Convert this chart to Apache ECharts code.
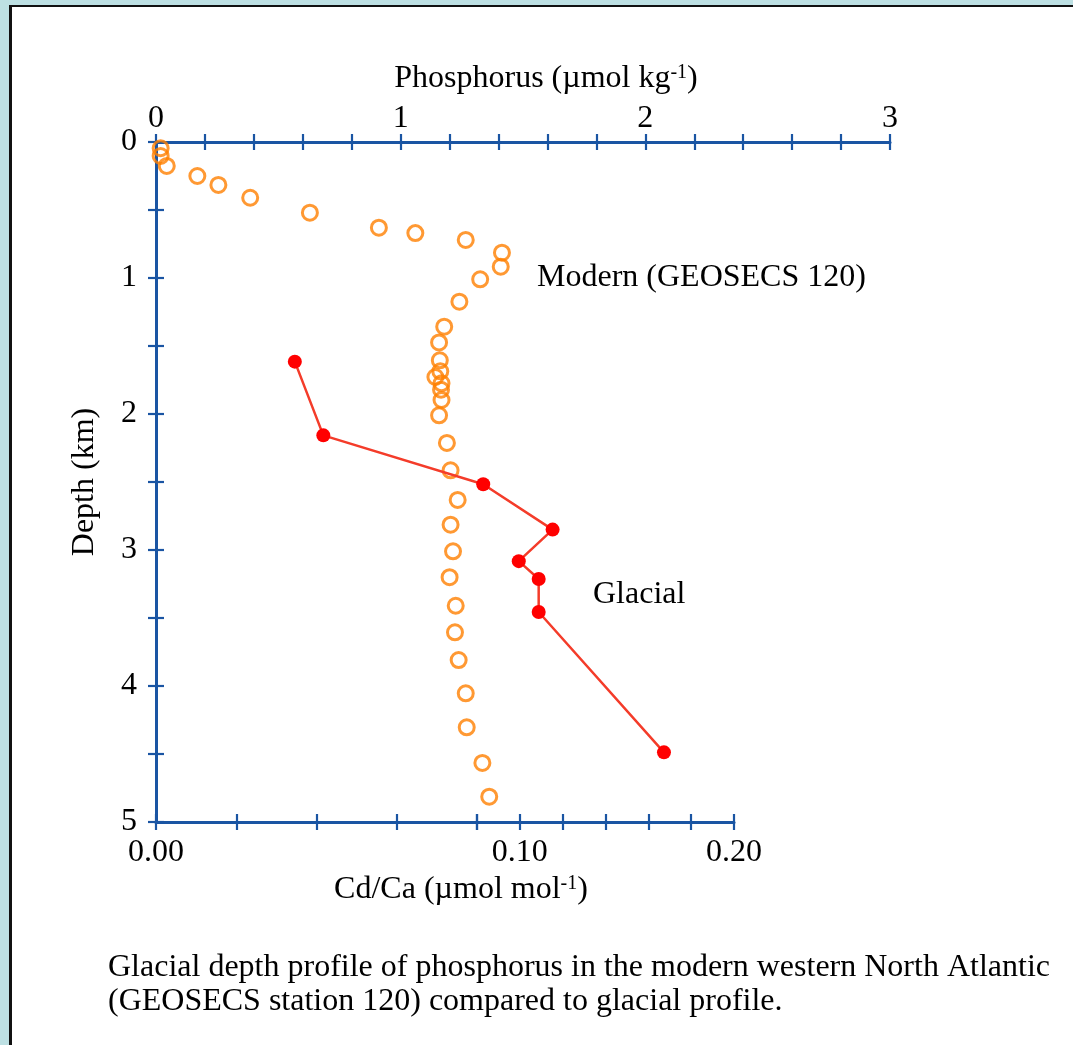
<!DOCTYPE html>
<html><head><meta charset="utf-8">
<script src="https://cdn.jsdelivr.net/npm/echarts@6/dist/echarts.min.js"></script>
<style>html,body{margin:0;padding:0;background:#bde0e3;overflow:hidden;} #c{width:1073px;height:1045px;}</style>
</head><body><div id="c"></div>
<script>
// ---- data ----
const modernPhosphorus = [0.019,0.019,0.044,0.169,0.255,0.385,0.629,0.911,1.06,1.266,1.414,1.409,1.325,1.24,1.178,1.157,1.16,1.162,1.142,1.167,1.165,1.167,1.157,1.189,1.204,1.233,1.204,1.214,1.2,1.225,1.222,1.237,1.266,1.27,1.334,1.362];
const modernDepth = [0.046,0.103,0.176,0.25,0.316,0.41,0.52,0.63,0.67,0.72,0.814,0.917,1.01,1.174,1.358,1.474,1.605,1.686,1.728,1.774,1.821,1.897,2.01,2.213,2.414,2.632,2.814,3.01,3.2,3.41,3.605,3.809,4.054,4.304,4.566,4.814];
const glacialCdCa = [0.0346,0.0417,0.0829,0.1153,0.0995,0.1088,0.1088,0.1673];
const glacialDepth = [1.615,2.157,2.517,2.85,3.082,3.213,3.456,4.488];
const phosphorusTickLabels = [0,1,2,3];
const depthTickLabels = [0,1,2,3,4,5];
const cdcaTickLabels = ['0.00','0.10','0.20'];
const cdcaLow = [0, 0.08];   // first (expanded) segment of the Cd/Ca scale
const cdcaHigh = [0.08, 0.20]; // second (compressed) segment

const FONT = '"Liberation Serif","Times New Roman",serif';
const FS = 32;
const BLUE = '#1a55a3';
const ORANGE = '#ff8000';

const near = (a, b) => Math.abs(a - b) < 1e-6;
function labelFrom(list) {
  return v => { for (const t of list) { if (near(Number(t), v)) return String(t); } return ''; };
}

const chart = echarts.init(document.getElementById('c'), null, {renderer: 'canvas'});

const axisLineStyle = {show: true, onZero: false, lineStyle: {color: BLUE, width: 3}};
const noLine = {show: false, onZero: false};
const tickOut = {show: true, inside: false, length: 8, lineStyle: {color: BLUE, width: 2.2}};
const tickIn = {show: true, inside: true, length: 8, lineStyle: {color: BLUE, width: 2.2}};
const lbl = {color: '#000', fontFamily: FONT, fontSize: FS};

const option = {
  animation: false,
  backgroundColor: '#ffffff',
  grid: [
    {left: 156, top: 142, width: 734, height: 680},
    {left: 156, top: 142, width: 321, height: 680},
    {left: 477, top: 142, width: 257, height: 680}
  ],
  xAxis: [
    {gridIndex: 0, type: 'value', position: 'top', min: 0, max: 3, interval: 0.2,
     axisLine: axisLineStyle, axisTick: tickOut, splitLine: {show: false},
     axisLabel: Object.assign({margin: 7, formatter: labelFrom(phosphorusTickLabels), showMinLabel: true, showMaxLabel: true}, lbl)},
    {gridIndex: 0, type: 'value', position: 'top', min: 0, max: 3, interval: 0.2,
     axisLine: noLine, axisTick: tickIn, splitLine: {show: false}, axisLabel: {show: false}},
    {gridIndex: 1, type: 'value', position: 'bottom', min: cdcaLow[0], max: cdcaLow[1], interval: 0.02,
     axisLine: axisLineStyle, axisTick: tickOut, splitLine: {show: false},
     axisLabel: Object.assign({margin: 15, formatter: labelFrom(cdcaTickLabels)}, lbl)},
    {gridIndex: 1, type: 'value', position: 'bottom', min: cdcaLow[0], max: cdcaLow[1], interval: 0.02,
     axisLine: noLine, axisTick: tickIn, splitLine: {show: false}, axisLabel: {show: false}},
    {gridIndex: 2, type: 'value', position: 'bottom', min: cdcaHigh[0], max: cdcaHigh[1], interval: 0.02,
     axisLine: axisLineStyle, axisTick: tickOut, splitLine: {show: false},
     axisLabel: Object.assign({margin: 15, formatter: labelFrom(cdcaTickLabels)}, lbl)},
    {gridIndex: 2, type: 'value', position: 'bottom', min: cdcaHigh[0], max: cdcaHigh[1], interval: 0.02,
     axisLine: noLine, axisTick: tickIn, splitLine: {show: false}, axisLabel: {show: false}}
  ],
  yAxis: [
    {gridIndex: 0, type: 'value', position: 'left', inverse: true, min: 0, max: 5, interval: 0.5,
     axisLine: axisLineStyle, axisTick: tickOut, splitLine: {show: false},
     axisLabel: Object.assign({margin: 19, formatter: labelFrom(depthTickLabels)}, lbl)},
    {gridIndex: 0, type: 'value', position: 'left', inverse: true, min: 0, max: 5, interval: 0.5,
     axisLine: noLine, axisTick: tickIn, splitLine: {show: false}, axisLabel: {show: false}},
    {gridIndex: 1, type: 'value', inverse: true, min: 0, max: 5, show: false},
    {gridIndex: 2, type: 'value', inverse: true, min: 0, max: 5, show: false}
  ],
  series: [
    {id: 'modern', name: 'Modern (GEOSECS 120)', type: 'scatter', xAxisIndex: 0, yAxisIndex: 0,
     data: modernPhosphorus.map((p, i) => [p, modernDepth[i]]),
     symbol: 'circle', symbolSize: 15, z: 3,
     itemStyle: {color: 'rgba(255,255,255,0)', borderColor: ORANGE, borderWidth: 3}},
    {id: 'glacial', name: 'Glacial', type: 'line', xAxisIndex: 0, yAxisIndex: 0,
     data: [], symbol: 'circle', symbolSize: 14, showSymbol: true, z: 4,
     itemStyle: {color: '#ff0000'}, lineStyle: {color: '#f43c2a', width: 2.5}}
  ],
  graphic: [
    {type: 'rect', shape: {x: 0, y: 0, width: 1073, height: 5}, style: {fill: '#bde0e3'}, silent: true},
    {type: 'rect', shape: {x: 0, y: 0, width: 9, height: 1045}, style: {fill: '#bde0e3'}, silent: true},
    {type: 'rect', shape: {x: 9, y: 5, width: 1064, height: 2}, style: {fill: '#111'}, silent: true},
    {type: 'rect', shape: {x: 9, y: 5, width: 3, height: 1040}, style: {fill: '#111'}, silent: true},
    {type: 'text', x: 546, y: 79, style: {text: 'Phosphorus (µmol kg{s|-1})', font: FS + 'px ' + FONT, fill: '#000', align: 'center', verticalAlign: 'middle',
      rich: {s: {fontSize: 20, fontFamily: FONT, verticalAlign: 'top', padding: [0, 0, 10, 0]}}}},
    {type: 'text', x: 461, y: 890, style: {text: 'Cd/Ca (µmol mol{s|-1})', font: FS + 'px ' + FONT, fill: '#000', align: 'center', verticalAlign: 'middle',
      rich: {s: {fontSize: 20, fontFamily: FONT, verticalAlign: 'top', padding: [0, 0, 10, 0]}}}},
    {type: 'text', x: 85, y: 482, rotation: Math.PI / 2, style: {text: 'Depth (km)', font: FS + 'px ' + FONT, fill: '#000', align: 'center', verticalAlign: 'middle'}},
    {type: 'text', x: 537, y: 278, style: {text: 'Modern (GEOSECS 120)', font: FS + 'px ' + FONT, fill: '#000', align: 'left', verticalAlign: 'middle'}},
    {type: 'text', x: 593, y: 595, style: {text: 'Glacial', font: FS + 'px ' + FONT, fill: '#000', align: 'left', verticalAlign: 'middle'}},
    {type: 'text', x: 108, y: 968, style: {text: 'Glacial depth profile of phosphorus in the modern western North Atlantic', font: FS + 'px ' + FONT, fill: '#000', align: 'left', verticalAlign: 'middle'}},
    {type: 'text', x: 108, y: 1002, style: {text: '(GEOSECS station 120) compared to glacial profile.', font: FS + 'px ' + FONT, fill: '#000', align: 'left', verticalAlign: 'middle'}}
  ]
};
chart.setOption(option);

// Place glacial Cd/Ca values through the piecewise Cd/Ca axes, then express them on the shared plot scale
const glacialData = glacialCdCa.map((v, i) => {
  const segAxis = v <= cdcaLow[1] ? 2 : 4;
  const px = chart.convertToPixel({xAxisIndex: segAxis}, v);
  const p = chart.convertFromPixel({xAxisIndex: 0}, px);
  return [p, glacialDepth[i]];
});
chart.setOption({series: [{id: 'glacial', data: glacialData}]});
</script>
</body></html>
